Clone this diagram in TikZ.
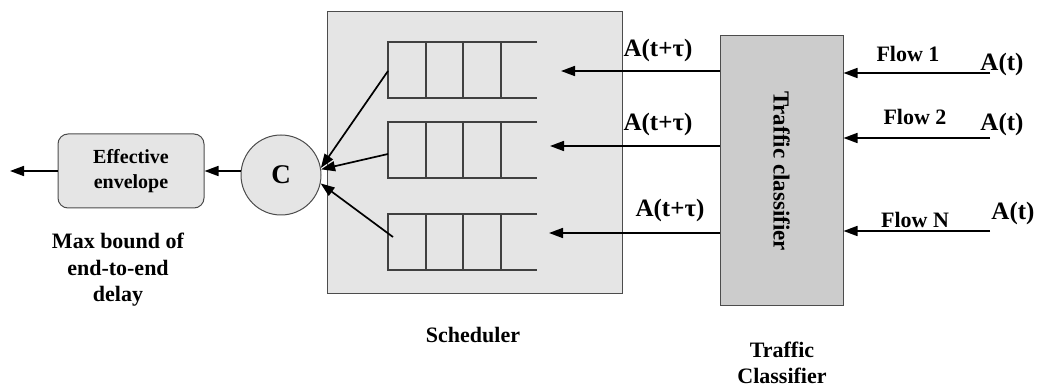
\documentclass[tikz,border=0pt]{standalone}
\usepackage{fontspec}
\setmainfont{Liberation Serif}
\usetikzlibrary{arrows.meta}

\tikzset{
  lbl/.style={font=\bfseries\fontsize{22}{26.5}\selectfont, align=center, inner sep=0pt},
  albl/.style={font=\bfseries\fontsize{25}{28}\selectfont, inner sep=0pt},
  flowarrow/.style={line width=1.7pt, -{Triangle[length=14pt,width=10pt]}},
  qline/.style={line width=1.3pt, draw=black!75}
}

\begin{document}
\begin{tikzpicture}[x=1pt, y=-1pt]
  %%%%% START %%%%%
  \useasboundingbox (0,0) rectangle (1037,390);

  % boxes
  \node[draw=black!70, line width=1pt, fill=black!10, minimum width=295pt, minimum height=282pt] (sched) at (474.5,153) {};
  \node[draw=black!70, line width=1pt, fill=black!20, minimum width=123pt, minimum height=270pt] (cls) at (781.5,171) {};
  \node[lbl, font=\bfseries\fontsize{23}{26}\selectfont, rotate=-90] (clstext) at (cls) {Traffic classifier};
  \node[lbl, font=\bfseries\fontsize{20}{25}\selectfont, draw=black!70, line width=1pt, fill=black!10, rounded corners=10pt, minimum width=146pt, minimum height=74pt] (env) at (131,171) {Effective\\envelope};
  \node[draw=black!70, line width=1pt, fill=black!10, circle, minimum size=80pt, font=\bfseries\fontsize{27}{30}\selectfont] (C) at (281,175) {C};

  % queues
  \foreach \t/\n in {42/1, 122/2, 214/3} {
    \draw[qline] (537,\t) -- (388,\t) -- (388,\t+56) -- (537,\t+56);
    \foreach \x in {426,463,501}
      \draw[qline] (\x,\t) -- (\x,\t+56);
  }
  \coordinate (q1) at (388,71);
  \coordinate (q2) at (388,154);
  \coordinate (q3) at (393,237);

  % arrows into the server
  \draw[flowarrow] (q1) -- (C.10);
  \draw[flowarrow] (q2) -- (C.8);
  \draw[flowarrow] (q3) -- (C.-12);
  \draw[flowarrow] (C.west |- env.east) -- (env.east);
  \coordinate (out) at (10,171);
  \draw[flowarrow] (env.west) -- (out);

  % classifier to queues
  \coordinate (in1) at (561,71);
  \coordinate (in2) at (550,146);
  \coordinate (in3) at (549,233);
  \draw[flowarrow] (cls.west |- in1) -- (in1);
  \draw[flowarrow] (cls.west |- in2) -- (in2);
  \draw[flowarrow] (cls.west |- in3) -- (in3);
  \node[albl] (a1) at (658,50) {A(t+τ)};
  \node[albl] (a2) at (658,124) {A(t+τ)};
  \node[albl] (a3) at (670,210) {A(t+τ)};

  % incoming flows
  \coordinate (f1) at (990,73);
  \coordinate (f2) at (990,138);
  \coordinate (f3) at (990,231);
  \draw[flowarrow] (f1) -- (f1 -| cls.east);
  \draw[flowarrow] (f2) -- (f2 -| cls.east);
  \draw[flowarrow] (f3) -- (f3 -| cls.east);
  \node[lbl] (fl1) at (908,54) {Flow 1};
  \node[lbl] (fl2) at (915,117) {Flow 2};
  \node[lbl] (fl3) at (915,220) {Flow N};
  \node[albl] (at1) at (1002,64) {A(t)};
  \node[albl] (at2) at (1002,124) {A(t)};
  \node[albl] (at3) at (1013,213) {A(t)};

  % captions
  \node[lbl] (delay) at (118,270) {Max bound of\\end-to-end\\delay};
  \node[lbl] (schedlbl) at (473,335) {Scheduler};
  \node[lbl, font=\bfseries\fontsize{22}{25.5}\selectfont] (clslbl) at (782,363) {Traffic\\Classifier};
  %%%%% END %%%%%
\end{tikzpicture}
\end{document}
